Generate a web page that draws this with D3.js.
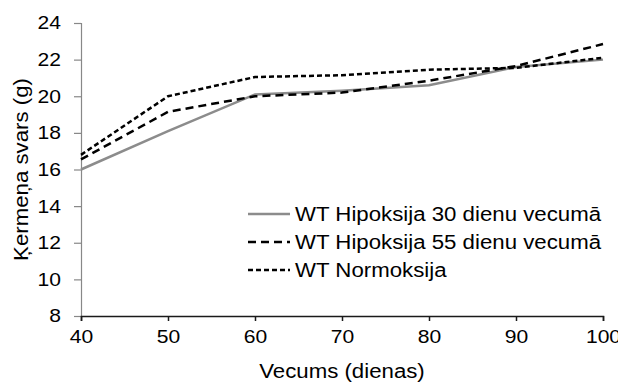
<!DOCTYPE html>
<html>
<head>
<meta charset="utf-8">
<script src="https://cdn.jsdelivr.net/npm/d3@7"></script>
<style>
  html, body { margin: 0; padding: 0; background: #fff; }
  svg { display: block; font-family: "Liberation Sans", Arial, sans-serif; }
</style>
</head>
<body>
<svg id="chart" width="618" height="383"></svg>
<script>
// Body weight (g) by age (days)
const ages = [40, 50, 60, 70, 80, 90, 100];
const hypoxia30 = [16.0, 18.1, 20.1, 20.3, 20.6, 21.6, 22.0];
const hypoxia55 = [16.55, 19.15, 20.0, 20.2, 20.85, 21.65, 22.85];
const normoxia = [16.8, 20.0, 21.05, 21.15, 21.45, 21.55, 22.1];
const seriesNames = ["WT Hipoksija 30 dienu vecumā", "WT Hipoksija 55 dienu vecumā", "WT Normoksija"];
const xTicks = [40, 50, 60, 70, 80, 90, 100];
const yTicks = [8, 10, 12, 14, 16, 18, 20, 22, 24];

const series = [
  { name: seriesNames[0], values: hypoxia30, color: "#8c8c8c", dash: null },
  { name: seriesNames[1], values: hypoxia55, color: "#000", dash: "8,5" },
  { name: seriesNames[2], values: normoxia, color: "#000", dash: "5,3" }
];

const svg = d3.select("#chart");
const plotLeft = 81, plotRight = 603, plotTop = 23, plotBottom = 316;

const x = d3.scaleLinear().domain([40, 100]).range([plotLeft, plotRight]);
const y = d3.scaleLinear().domain([8, 24]).range([plotBottom, plotTop]);

const tickFont = 18.5;
const labelFont = 19.5;
const widen = 1.14; // text is set slightly wide

// Y axis (grey)
const yAxis = svg.append("g")
  .attr("transform", `translate(${plotLeft},0)`)
  .call(d3.axisLeft(y).tickValues(yTicks).tickSize(7).tickPadding(13).tickFormat(d3.format("d")));
yAxis.select(".domain").attr("stroke", "#888").attr("stroke-width", 1.2);
yAxis.selectAll(".tick line").attr("stroke", "#888").attr("stroke-width", 1.2);

// X axis (dark)
const xAxis = svg.append("g")
  .attr("transform", `translate(0,${plotBottom})`)
  .call(d3.axisBottom(x).tickValues(xTicks).tickSize(5).tickPadding(9).tickFormat(d3.format("d")));
xAxis.select(".domain").attr("stroke", "#1a1a1a").attr("stroke-width", 1.5);
xAxis.selectAll(".tick line").attr("stroke", "#1a1a1a").attr("stroke-width", 1.5);

[yAxis, xAxis].forEach(a => {
  a.selectAll(".tick text").attr("fill", "#000").style("font-size", tickFont + "px")
    .style("font-family", "'Liberation Sans', Arial, sans-serif");
});

// Lines
const line = d3.line().x((d, i) => x(ages[i])).y(d => y(d));
series.forEach(s => {
  svg.append("path")
    .datum(s.values)
    .attr("d", line)
    .attr("fill", "none")
    .attr("stroke", s.color)
    .attr("stroke-width", 2.5)
    .attr("stroke-dasharray", s.dash);
});

// Legend
const legend = svg.append("g");
const legendRows = [214, 242, 270];
series.forEach((s, i) => {
  const g = legend.append("g").attr("transform", `translate(0,${legendRows[i]})`);
  g.append("line")
    .attr("x1", 248).attr("x2", 290).attr("y1", 0).attr("y2", 0)
    .attr("stroke", s.color).attr("stroke-width", 2.5)
    .attr("stroke-dasharray", s.dash);
  g.append("text")
    .attr("x", 295).attr("y", 0).attr("dy", "0.36em")
    .style("font-size", labelFont + "px")
    .text(s.name);
});

// Axis titles
svg.append("text")
  .attr("x", (plotLeft + plotRight) / 2).attr("y", 378)
  .attr("text-anchor", "middle")
  .style("font-size", labelFont + "px")
  .text("Vecums (dienas)");

svg.append("text")
  .attr("transform", `translate(28,${(plotTop + plotBottom) / 2}) rotate(-90)`)
  .attr("text-anchor", "middle")
  .style("font-size", labelFont + "px")
  .text("Ķermeņa svars (g)");

// Stretch all labels horizontally (along their reading direction)
svg.selectAll("text").each(function () {
  const w = this.getComputedTextLength();
  d3.select(this).attr("textLength", w * widen).attr("lengthAdjust", "spacingAndGlyphs");
});
</script>
</body>
</html>
